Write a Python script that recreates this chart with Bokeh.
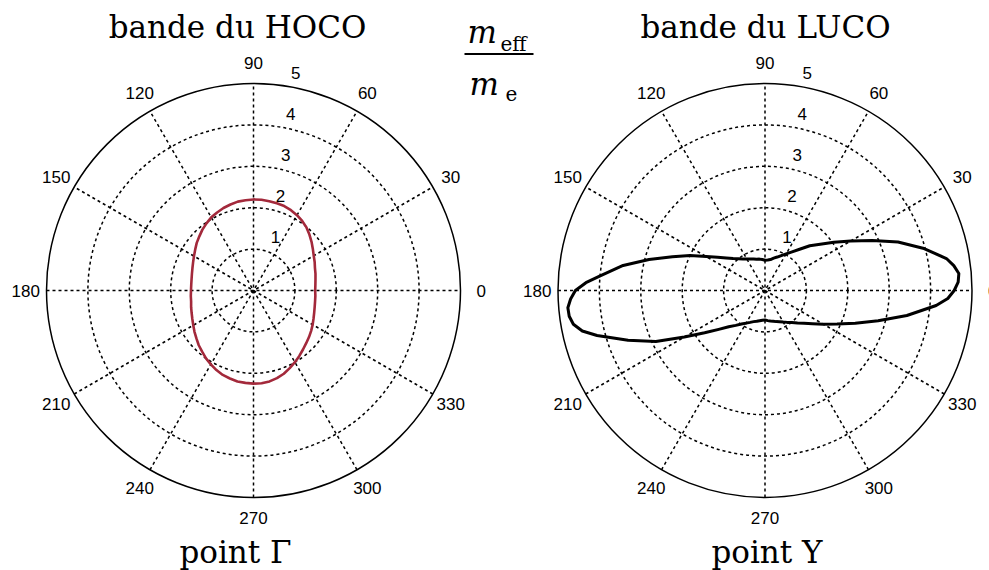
import numpy as np
from bokeh.plotting import figure
from bokeh.models import Range1d
from bokeh.core.properties import value
from bokeh.embed import file_html
from bokeh.resources import INLINE

# ---- data: effective mass ratio m_eff/m_e versus direction (degrees) ----
hoco_theta = list(range(0, 360, 5))
hoco_r = [1.49, 1.50, 1.52, 1.55, 1.58, 1.63, 1.68, 1.75, 1.83, 1.91, 1.99, 2.05,
          2.10, 2.14, 2.17, 2.18, 2.19, 2.20, 2.20, 2.19, 2.18, 2.15, 2.12, 2.08,
          2.04, 1.98, 1.92, 1.85, 1.79, 1.72, 1.66, 1.61, 1.57, 1.54, 1.52, 1.51,
          1.51, 1.52, 1.53, 1.56, 1.59, 1.63, 1.68, 1.74, 1.80, 1.87, 1.93, 2.00,
          2.06, 2.12, 2.17, 2.20, 2.23, 2.24, 2.25, 2.25, 2.23, 2.19, 2.14, 2.07,
          2.00, 1.93, 1.86, 1.80, 1.75, 1.70, 1.65, 1.60, 1.56, 1.53, 1.51, 1.50]

luco_theta = [0, 2.5, 5, 7.5, 10, 15, 20, 25, 30, 35, 40, 45, 50, 55, 60, 65, 70, 75,
              80, 85, 90, 95, 100, 105, 110, 115, 120, 125, 130, 135, 140, 145, 150,
              155, 160, 165, 170, 175, 177.5, 180, 182.5, 185, 187.5, 190, 192.5, 195,
              200, 205, 210, 215, 220, 225, 230, 235, 240, 245, 250, 255, 260, 265,
              270, 275, 280, 285, 290, 295, 300, 305, 310, 315, 320, 325, 330, 335,
              340, 345, 350, 355, 357.5]
luco_r = [4.57, 4.67, 4.70, 4.60, 4.45, 3.95, 3.42, 2.86, 2.39, 2.03, 1.74, 1.53, 1.30,
          1.14, 1.02, 0.93, 0.86, 0.81, 0.76, 0.74, 0.73, 0.75, 0.77, 0.78, 0.81, 0.84,
          0.88, 0.93, 1.00, 1.09, 1.22, 1.40, 1.64, 2.00, 2.38, 2.90, 3.48, 4.01, 4.33,
          4.58, 4.70, 4.78, 4.77, 4.70, 4.52, 4.20, 3.52, 2.91, 2.25, 1.78, 1.46, 1.24,
          1.10, 0.99, 0.91, 0.85, 0.80, 0.77, 0.74, 0.72, 0.71, 0.73, 0.75, 0.77, 0.80,
          0.83, 0.88, 0.94, 1.01, 1.11, 1.23, 1.40, 1.63, 1.92, 2.32, 2.83, 3.48, 4.15,
          4.42]

ring_values = [1, 2, 3, 4, 5]
ring_labels = ["1", "2", "3", "4", "5"]
angle_ticks = [0, 30, 60, 90, 120, 150, 180, 210, 240, 270, 300, 330]
angle_labels = [str(a) for a in angle_ticks]
top_titles = ["bande du HOCO", "bande du LUCO"]
bottom_titles = ["point \u0393", "point Y"]

# ---- page geometry (pixels) ----
W, H = 989, 570
PX = 41.4            # pixels per unit of m_eff/m_e
CX0, CY0 = 253.0, 290.0
CX1 = 764.5
RMAX = 5.0


def dx(px):
    return (px - CX0) / PX


def dy(py):
    return (CY0 - py) / PX


def base(py, size):
    # data y for a text whose baseline should sit at pixel row py
    return dy(py - 0.39 * size)


p = figure(width=W, height=H, output_backend="svg", toolbar_location=None,
           x_range=Range1d(dx(0), dx(W)), y_range=Range1d(dy(H), dy(0)),
           x_axis_location=None, y_axis_location=None,
           min_border=0, outline_line_color=None)
p.grid.visible = False
p.background_fill_color = "white"
p.border_fill_color = "white"

NUM_FONT = value("Liberation Sans")
SERIF = value("DejaVu Serif")

centers = [0.0, dx(CX1)]
curves = [(hoco_theta, hoco_r, "#a3293b", 2.6), (luco_theta, luco_r, "black", 3.0)]

for k, cx in enumerate(centers):
    # dotted rings and the solid outer circle
    for rv in ring_values[:-1]:
        p.circle(x=[cx], y=[0], radius=rv, fill_color=None, line_color="black",
                 line_width=1.5, line_dash="3 3")
    p.circle(x=[cx], y=[0], radius=RMAX, fill_color=None, line_color="black",
             line_width=1.5)

    # spokes every 30 degrees across the full diameter
    sp = np.radians(angle_ticks[:6])
    p.segment(x0=cx - RMAX * np.cos(sp), y0=-RMAX * np.sin(sp),
              x1=cx + RMAX * np.cos(sp), y1=RMAX * np.sin(sp),
              line_color="black", line_width=1.5, line_dash="3 3")

    # angle labels just outside the outer circle
    ta = np.radians(angle_ticks)
    p.text(x=cx + 1.1 * RMAX * np.cos(ta), y=1.1 * RMAX * np.sin(ta), text=angle_labels,
           text_font=NUM_FONT, text_font_size="17px", text_align="center",
           text_baseline="middle", text_color="black")

    # radial labels along the 83 degree direction
    a83 = np.radians(83)
    rv = np.array(ring_values, dtype=float)
    p.text(x=cx + rv * np.cos(a83) + 0.41, y=rv * np.sin(a83) + 0.29, text=ring_labels,
           text_font=NUM_FONT, text_font_size="17px", text_align="center",
           text_baseline="middle", text_color="black")

    # effective mass curve, closed
    th, rr, col, lw = curves[k]
    t = np.radians(np.array(th + th[:1], dtype=float))
    r = np.array(rr + rr[:1], dtype=float)
    p.line(x=cx + r * np.cos(t), y=r * np.sin(t), line_color=col, line_width=lw,
           line_join="round")

# titles above and below each polar plot
p.text(x=[dx(237), dx(765)], y=[base(39, 31)] * 2, text=top_titles, text_font=SERIF,
       text_font_size="31px", text_align="center", text_baseline="alphabetic",
       text_color="black")
p.text(x=[dx(235), dx(766.5)], y=[base(564, 31)] * 2, text=bottom_titles, text_font=SERIF,
       text_font_size="31px", text_align="center", text_baseline="alphabetic",
       text_color="black")

# m_eff / m_e quantity label
p.text(x=[dx(467), dx(469)], y=[base(43.5, 31), base(96, 31)], text=["m", "m"],
       text_font=SERIF, text_font_style="italic", text_font_size="31px",
       text_align="left", text_baseline="alphabetic", text_color="black")
p.text(x=[dx(500), dx(505)], y=[base(51, 20), base(100.5, 20)], text=["eff", "e"],
       text_font=SERIF, text_font_size="20px", text_align="left",
       text_baseline="alphabetic", text_color="black")
p.segment(x0=[dx(464)], y0=[dy(53.5)], x1=[dx(533)], y1=[dy(53.5)],
          line_color="black", line_width=2)

open("out.html", "w").write(file_html(p, INLINE))
